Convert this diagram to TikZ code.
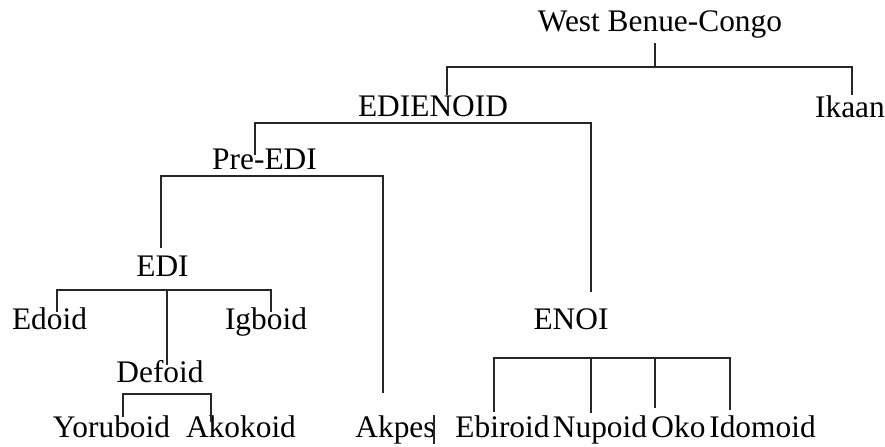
\documentclass[tikz,border=0pt]{standalone}
\usepackage{fontspec}
\setmainfont{Liberation Serif}
\begin{document}
\begin{tikzpicture}[x=1bp,y=-1bp,
  lab/.style={inner sep=0pt,anchor=base,font=\fontsize{31.5}{31.5}\selectfont,text=black},
  br/.style={draw=black!85,line width=1.5bp}]
\useasboundingbox (0,0) rectangle (885,447);
% labels
\node[lab] (wbc) at (660,32) {West Benue-Congo};
\node[lab] (ikaan) at (850,118) {Ikaan};
\node[lab] (edienoid) at (433,117) {EDIENOID};
\node[lab] (preedi) at (264.5,170) {Pre-EDI};
\node[lab] (edi) at (162.5,277) {EDI};
\node[lab] (edoid) at (49.5,330) {Edoid};
\node[lab] (igboid) at (266,330) {Igboid};
\node[lab] (defoid) at (160,383) {Defoid};
\node[lab] (yoruboid) at (111.5,437) {Yoruboid};
\node[lab] (akokoid) at (241,437) {Akokoid};
\node[lab] (akpes) at (395.5,437) {Akpes};
\node[lab] (enoi) at (571,330) {ENOI};
\node[lab] (ebiroid) at (502.5,437) {Ebiroid};
\node[lab] (nupoid) at (600,437) {Nupoid};
\node[lab] (oko) at (678.5,437) {Oko};
\node[lab] (idomoid) at (762.5,437) {Idomoid};
% branch points
\coordinate (wbcT) at (655,43);
\coordinate (wbcM) at (655,67);
\coordinate (wbcL) at (447,67);
\coordinate (wbcR) at (852,67);
\coordinate (edienoidIn) at (447,95);
\coordinate (ikaanIn) at (852,95);
\coordinate (ediL) at (255,123);
\coordinate (ediR) at (591,123);
\coordinate (preediIn) at (255,155);
\coordinate (enoiIn) at (591,292);
\coordinate (preL) at (161,176);
\coordinate (preR) at (383,176);
\coordinate (ediIn) at (161,248);
\coordinate (akpesIn) at (383,393);
\coordinate (edL) at (57,290);
\coordinate (edM) at (167,290);
\coordinate (edR) at (271,290);
\coordinate (edoidIn) at (57,312);
\coordinate (igboidIn) at (271,312);
\coordinate (defoidIn) at (167,365);
\coordinate (dfL) at (123,394);
\coordinate (dfR) at (211,394);
\coordinate (yorIn) at (123,417);
\coordinate (akoIn) at (211,422);
\coordinate (enL) at (494,358);
\coordinate (enN) at (591,358);
\coordinate (enO) at (655,358);
\coordinate (enR) at (730,358);
\coordinate (ebiIn) at (494,412);
\coordinate (nupIn) at (591,413);
\coordinate (okoIn) at (655,408);
\coordinate (idoIn) at (730,410);
\coordinate (barT) at (434,415);
\coordinate (barB) at (434,444);
% connectors
\draw[br] (wbcT) -- (wbcM);
\draw[br] (edienoidIn) -- (wbcL) -- (wbcR) -- (ikaanIn);
\draw[br] (preediIn) -- (ediL) -- (ediR) -- (enoiIn);
\draw[br] (ediIn) -- (preL) -- (preR) -- (akpesIn);
\draw[br] (edoidIn) -- (edL) -- (edR) -- (igboidIn);
\draw[br] (edM) -- (defoidIn);
\draw[br] (yorIn) -- (dfL) -- (dfR) -- (akoIn);
\draw[br] (ebiIn) -- (enL) -- (enR) -- (idoIn);
\draw[br] (enN) -- (nupIn);
\draw[br] (enO) -- (okoIn);
\draw[br] (barT) -- (barB);
\end{tikzpicture}
\end{document}
